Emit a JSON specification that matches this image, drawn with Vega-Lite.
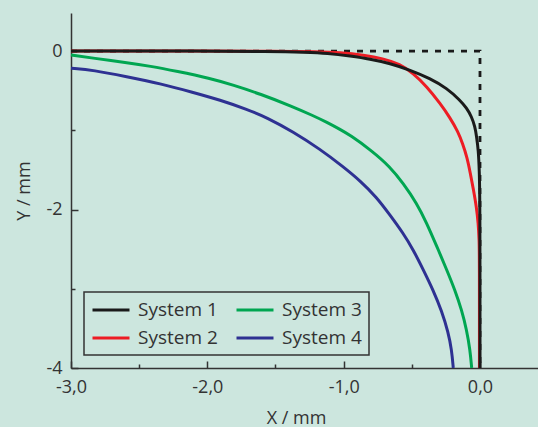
{
  "$schema": "https://vega.github.io/schema/vega-lite/v6.json",
  "width": 467,
  "height": 355,
  "autosize": {"type": "none"},
  "padding": {"left": 71, "top": 13, "right": 0, "bottom": 59},
  "background": "#cce6de",
  "config": {
    "view": {"stroke": null},
    "font": "Open Sans",
    "legend": {"strokeWidth": 1.5}
  },
  "datasets": {
    "curves": [
      {"s":"System 4","i":0,"x":-3.0,"y":-0.218},
      {"s":"System 4","i":1,"x":-2.837,"y":-0.24},
      {"s":"System 4","i":2,"x":-2.592,"y":-0.325},
      {"s":"System 4","i":3,"x":-2.347,"y":-0.41},
      {"s":"System 4","i":4,"x":-2.103,"y":-0.522},
      {"s":"System 4","i":5,"x":-1.907,"y":-0.618},
      {"s":"System 4","i":6,"x":-1.711,"y":-0.735},
      {"s":"System 4","i":7,"x":-1.562,"y":-0.84},
      {"s":"System 4","i":8,"x":-1.372,"y":-1.018},
      {"s":"System 4","i":9,"x":-1.174,"y":-1.237},
      {"s":"System 4","i":10,"x":-1.003,"y":-1.46},
      {"s":"System 4","i":11,"x":-0.88,"y":-1.635},
      {"s":"System 4","i":12,"x":-0.758,"y":-1.845},
      {"s":"System 4","i":13,"x":-0.66,"y":-2.07},
      {"s":"System 4","i":14,"x":-0.563,"y":-2.3},
      {"s":"System 4","i":15,"x":-0.489,"y":-2.51},
      {"s":"System 4","i":16,"x":-0.416,"y":-2.76},
      {"s":"System 4","i":17,"x":-0.343,"y":-3.02},
      {"s":"System 4","i":18,"x":-0.281,"y":-3.28},
      {"s":"System 4","i":19,"x":-0.233,"y":-3.55},
      {"s":"System 4","i":20,"x":-0.208,"y":-3.77},
      {"s":"System 4","i":21,"x":-0.196,"y":-4.0},
      {"s":"System 3","i":0,"x":-3.0,"y":-0.05},
      {"s":"System 3","i":1,"x":-2.837,"y":-0.09},
      {"s":"System 3","i":2,"x":-2.592,"y":-0.145},
      {"s":"System 3","i":3,"x":-2.42,"y":-0.19},
      {"s":"System 3","i":4,"x":-2.225,"y":-0.255},
      {"s":"System 3","i":5,"x":-1.98,"y":-0.345},
      {"s":"System 3","i":6,"x":-1.81,"y":-0.43},
      {"s":"System 3","i":7,"x":-1.614,"y":-0.54},
      {"s":"System 3","i":8,"x":-1.372,"y":-0.703},
      {"s":"System 3","i":9,"x":-1.225,"y":-0.815},
      {"s":"System 3","i":10,"x":-1.122,"y":-0.9},
      {"s":"System 3","i":11,"x":-1.027,"y":-0.988},
      {"s":"System 3","i":12,"x":-0.954,"y":-1.06},
      {"s":"System 3","i":13,"x":-0.8,"y":-1.25},
      {"s":"System 3","i":14,"x":-0.66,"y":-1.46},
      {"s":"System 3","i":15,"x":-0.563,"y":-1.67},
      {"s":"System 3","i":16,"x":-0.464,"y":-1.92},
      {"s":"System 3","i":17,"x":-0.391,"y":-2.17},
      {"s":"System 3","i":18,"x":-0.318,"y":-2.46},
      {"s":"System 3","i":19,"x":-0.244,"y":-2.76},
      {"s":"System 3","i":20,"x":-0.183,"y":-3.02},
      {"s":"System 3","i":21,"x":-0.134,"y":-3.27},
      {"s":"System 3","i":22,"x":-0.098,"y":-3.52},
      {"s":"System 3","i":23,"x":-0.073,"y":-3.77},
      {"s":"System 3","i":24,"x":-0.061,"y":-4.0},
      {"s":"System 2","i":0,"x":-3.0,"y":0},
      {"s":"System 2","i":1,"x":-1.3,"y":0},
      {"s":"System 2","i":2,"x":-1.0,"y":-0.02},
      {"s":"System 2","i":3,"x":-0.858,"y":-0.05},
      {"s":"System 2","i":4,"x":-0.711,"y":-0.095},
      {"s":"System 2","i":5,"x":-0.587,"y":-0.165},
      {"s":"System 2","i":6,"x":-0.491,"y":-0.28},
      {"s":"System 2","i":7,"x":-0.389,"y":-0.45},
      {"s":"System 2","i":8,"x":-0.293,"y":-0.66},
      {"s":"System 2","i":9,"x":-0.22,"y":-0.84},
      {"s":"System 2","i":10,"x":-0.161,"y":-1.02},
      {"s":"System 2","i":11,"x":-0.127,"y":-1.17},
      {"s":"System 2","i":12,"x":-0.095,"y":-1.34},
      {"s":"System 2","i":13,"x":-0.071,"y":-1.54},
      {"s":"System 2","i":14,"x":-0.048,"y":-1.75},
      {"s":"System 2","i":15,"x":-0.026,"y":-1.97},
      {"s":"System 2","i":16,"x":-0.013,"y":-2.17},
      {"s":"System 2","i":17,"x":-0.006,"y":-2.38},
      {"s":"System 2","i":18,"x":-0.004,"y":-2.6},
      {"s":"System 2","i":19,"x":-0.004,"y":-4.0},
      {"s":"System 1","i":0,"x":-3.0,"y":0},
      {"s":"System 1","i":1,"x":-1.35,"y":0},
      {"s":"System 1","i":2,"x":-1.1,"y":-0.03},
      {"s":"System 1","i":3,"x":-0.954,"y":-0.063},
      {"s":"System 1","i":4,"x":-0.807,"y":-0.1},
      {"s":"System 1","i":5,"x":-0.66,"y":-0.155},
      {"s":"System 1","i":6,"x":-0.513,"y":-0.24},
      {"s":"System 1","i":7,"x":-0.367,"y":-0.345},
      {"s":"System 1","i":8,"x":-0.242,"y":-0.47},
      {"s":"System 1","i":9,"x":-0.147,"y":-0.62},
      {"s":"System 1","i":10,"x":-0.098,"y":-0.72},
      {"s":"System 1","i":11,"x":-0.061,"y":-0.83},
      {"s":"System 1","i":12,"x":-0.037,"y":-0.955},
      {"s":"System 1","i":13,"x":-0.025,"y":-1.08},
      {"s":"System 1","i":14,"x":-0.012,"y":-1.25},
      {"s":"System 1","i":15,"x":-0.005,"y":-1.5},
      {"s":"System 1","i":16,"x":0,"y":-1.88},
      {"s":"System 1","i":17,"x":0,"y":-4.0}
    ],
    "ideal": [
      {"i":0,"x":-3.0,"y":0},
      {"i":1,"x":0,"y":0},
      {"i":2,"x":0,"y":-4.0}
    ]
  },
  "layer": [
    {
      "mark": {"type": "rule", "color": "#444444", "strokeWidth": 1.6, "strokeDash": [3, 6]},
      "encoding": {
        "y": {"datum": -2, "type": "quantitative", "scale": {"domain": [-4, 0.48], "nice": false, "zero": false}}
      }
    },
    {
      "mark": {"type": "rule", "color": "#333333", "strokeWidth": 1.5},
      "encoding": {
        "y": {"datum": 0.48, "type": "quantitative", "scale": {"domain": [-4, 0.48], "nice": false, "zero": false}}
      }
    },
    {
      "data": {"name": "ideal"},
      "mark": {"type": "line", "color": "#1a1a1a", "strokeWidth": 2.8, "strokeDash": [6, 7], "strokeCap": "butt"},
      "encoding": {
        "x": {"field": "x", "type": "quantitative", "scale": {"domain": [-3, 0.4255], "nice": false, "zero": false}},
        "y": {"field": "y", "type": "quantitative", "scale": {"domain": [-4, 0.48], "nice": false, "zero": false}},
        "order": {"field": "i"}
      }
    },
    {
      "data": {"name": "curves"},
      "mark": {"type": "line", "strokeWidth": 3, "strokeCap": "butt", "strokeJoin": "round", "interpolate": "basis"},
      "encoding": {
        "x": {
          "field": "x", "type": "quantitative",
          "scale": {"domain": [-3, 0.4255], "nice": false, "zero": false},
          "axis": {
            "values": [-3, -2.5, -2, -1.5, -1, -0.5, 0],
            "labelExpr": "datum.value % 1 === 0 ? replace(replace(format(datum.value, '.1f'), '.', ','), '\u2212', '-') : ''",
            "tickSize": {"condition": {"test": "datum.value % 1 === 0", "value": -7}, "value": -4},
            "tickColor": "#333333", "tickWidth": 1.5,
            "domain": true, "domainColor": "#333333", "domainWidth": 1.5,
            "grid": false,
            "labelFont": "Open Sans", "labelFontSize": 18, "labelColor": "#333333",
            "labelPadding": 17, "labelFlush": false, "labelOverlap": false,
            "title": "X / mm", "titleFont": "Open Sans", "titleFontSize": 18, "titleFontWeight": "normal",
            "titleColor": "#333333", "titlePadding": 10, "titleX": 225
          }
        },
        "y": {
          "field": "y", "type": "quantitative",
          "scale": {"domain": [-4, 0.48], "nice": false, "zero": false},
          "axis": {
            "values": [-4, -3, -2, -1, 0],
            "labelExpr": "datum.value % 2 === 0 ? replace(format(datum.value, 'd'), '\u2212', '-') : ''",
            "tickSize": {"condition": {"test": "datum.value % 2 === 0", "value": -7}, "value": -4},
            "tickColor": "#333333", "tickWidth": 1.5,
            "domain": true, "domainColor": "#333333", "domainWidth": 1.5,
            "grid": false,
            "labelFont": "Open Sans", "labelFontSize": 18, "labelColor": "#333333",
            "labelPadding": 16, "labelOverlap": false,
            "title": "Y / mm", "titleFont": "Open Sans", "titleFontSize": 18, "titleFontWeight": "normal",
            "titleColor": "#333333", "titlePadding": 12
          }
        },
        "color": {
          "field": "s", "type": "nominal",
          "scale": {"domain": ["System 1", "System 2", "System 3", "System 4"], "range": ["#1a1a1a", "#ed1c24", "#00a651", "#2e3192"]},
          "legend": {
            "orient": "none", "legendX": 13, "legendY": 279,
            "columns": 2, "title": null,
            "symbolType": "M-2,0H2", "symbolSize": 342, "symbolStrokeWidth": 3, "symbolOffset": 9,
            "labelFont": "Open Sans", "labelFontSize": 19, "labelColor": "#333333",
            "labelOffset": 16, "padding": 7, "rowPadding": 7, "columnPadding": 12,
            "strokeColor": "#333333", "fillColor": "#cce6de"
          }
        },
        "order": {"field": "i"}
      }
    }
  ]
}
